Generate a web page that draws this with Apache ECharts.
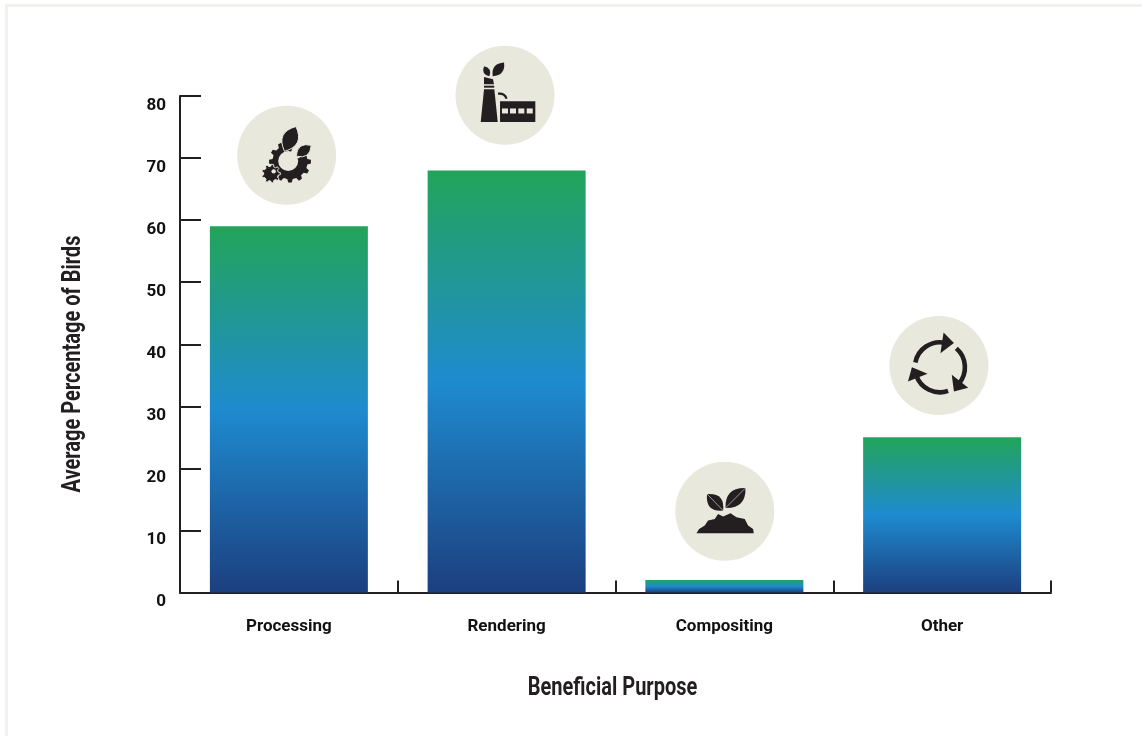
<!DOCTYPE html>
<html>
<head>
<meta charset="utf-8">
<title>Beneficial Purpose</title>
<script src="https://cdn.jsdelivr.net/npm/echarts@6/dist/echarts.min.js"></script>
<style>
  html, body { margin: 0; padding: 0; background: #fff; }
  #main { width: 1142px; height: 736px; }
</style>
</head>
<body>
<div id="main"></div>
<script>
// data
var categories = ["Processing", "Rendering", "Compositing", "Other"];
var birdPercent = [59, 68, 2, 25];
var yTicks = [0, 10, 20, 30, 40, 50, 60, 70, 80];
var xTitle = "Beneficial Purpose";
var yTitle = "Average Percentage of Birds";

var inkColor = "#231f20";
var discColor = "#e8e8dd";
var tickFont = "Roboto";

// little helpers for the icons, everything is in px around the disc centre
function f(n) {
  return n.toFixed(2);
}
function leaf(x0, y0, x1, y1, w) {
  var mx = (x0 + x1) / 2, my = (y0 + y1) / 2;
  var dx = x1 - x0, dy = y1 - y0;
  var len = Math.sqrt(dx * dx + dy * dy);
  var nx = -dy / len * w, ny = dx / len * w;
  return "M" + f(x0) + " " + f(y0) +
    "Q" + f(mx + nx) + " " + f(my + ny) + " " + f(x1) + " " + f(y1) +
    "Q" + f(mx - nx) + " " + f(my - ny) + " " + f(x0) + " " + f(y0) + "Z";
}
function poly(pts) {
  return "M" + pts.map(function(p) { return f(p[0]) + " " + f(p[1]); }).join("L") + "Z";
}
function gear(cx, cy, ro, ri, n) {
  var pts = [];
  for (var i = 0; i < n; i++) {
    var a = (i / n) * Math.PI * 2, s = (Math.PI * 2) / n;
    [[-0.3, ri], [-0.16, ro], [0.16, ro], [0.3, ri]].forEach(function(t) {
      pts.push([cx + Math.cos(a + t[0] * s) * t[1], cy + Math.sin(a + t[0] * s) * t[1]]);
    });
  }
  return poly(pts);
}
function polar(cx, cy, r, deg) {
  var a = (deg * Math.PI) / 180;
  return [cx + Math.cos(a) * r, cy + Math.sin(a) * r];
}

function fill(d, color) {
  return { type: "path", shape: { pathData: d }, style: { fill: color || inkColor } };
}
function outlined(d) {
  return { type: "path", shape: { pathData: d }, style: { fill: inkColor, stroke: discColor, lineWidth: 1 } };
}
function line(d, color, w) {
  return { type: "path", shape: { pathData: d }, style: { fill: null, stroke: color, lineWidth: w } };
}
function dot(cx, cy, r, color) {
  return { type: "circle", shape: { cx: cx, cy: cy, r: r }, style: { fill: color } };
}

function gearIcon() {
  return [
    fill(gear(3.3, 6.3, 21, 17.6, 12)),
    dot(1.5, 5.7, 10, discColor),
    fill(poly([[3, 2], [8, -16], [30, -10], [12, 3]]), discColor),
    { type: "path", shape: { pathData: gear(-15.7, 18.3, 9.4, 7.4, 9) }, style: { fill: inkColor, stroke: discColor, lineWidth: 1 } },
    dot(-13, 16, 2.2, discColor),
    outlined(leaf(-2.2, -4, 9.3, -28.8, 16)),
    outlined(leaf(9.5, 0.8, 24.6, -10, 11))
  ];
}
function factoryIcon() {
  return [
    fill(poly([[-24.3, 26.7], [-7.3, 26.7], [-10.7, -6], [-21, -6]])),
    fill(poly([[-21, -9.5], [-10.8, -9.5], [-10.8, -7.5], [-21, -7.5]])),
    fill(poly([[-21, -18.3], [-12, -16], [-11, -11], [-21, -11]])),
    fill(poly([[-5, 6], [30.3, 6], [30.3, 26.7], [-5, 26.7]])),
    fill(poly([[-3, 13.3], [3, 13.3], [3, 18.3], [-3, 18.3]]), discColor),
    fill(poly([[5, 13.3], [11, 13.3], [11, 18.3], [5, 18.3]]), discColor),
    fill(poly([[13.3, 13.3], [19.3, 13.3], [19.3, 18.3], [13.3, 18.3]]), discColor),
    fill(poly([[21.7, 13.3], [27.7, 13.3], [27.7, 18.3], [21.7, 18.3]]), discColor),
    line("M-7 -1.5Q0 -2 1.5 3.5", inkColor, 2.2),
    fill(leaf(-15.7, -19, -21, -29, 6.5)),
    fill(leaf(-12.3, -19, -1, -32.7, 9.5))
  ];
}
function soilIcon() {
  var soil = [[-28.3, 22], [-25.7, 17.7], [-20, 14.3], [-16.7, 9.3], [-10, 7.7], [-6.7, 2.7], [-1.7, 5.3],
    [5.7, 2], [11.7, 6], [20, 7.7], [23.3, 14.3], [28.3, 17.7], [29, 22]];
  return [
    fill(poly(soil)),
    fill(leaf(-1.7, -0.7, -17.7, -17.3, 14)),
    line("M-1.7 -0.7L-17.7 -17.3", discColor, 0.6),
    fill(leaf(0.7, -3.3, 20.7, -23.3, 15)),
    line("M0.7 -3.3L20.7 -23.3", discColor, 0.6)
  ];
}
function recycleIcon() {
  var out = [], cx = 1, cy = 1.7, r = 25;
  for (var k = 0; k < 3; k++) {
    var off = k * 120;
    var a = polar(cx, cy, r, -169 + off), b = polar(cx, cy, r, -78 + off);
    out.push(line("M" + f(a[0]) + " " + f(a[1]) + "A" + r + " " + r + " 0 0 1 " + f(b[0]) + " " + f(b[1]), inkColor, 4.6));
    out.push(fill(poly([polar(cx, cy, 35, -84 + off), polar(cx, cy, 28, -60 + off), polar(cx, cy, 14, -88 + off)])));
  }
  return out;
}
var iconBuilders = [gearIcon, factoryIcon, soilIcon, recycleIcon];
// how far each disc sits from its bar top centre
var discShift = [[-2.2, -71], [-1.6, -75.3], [0.4, -68.8], [-3.2, -71.8]];

var chartDom = document.getElementById("main");
var myChart = echarts.init(chartDom, null, { renderer: "canvas" });

// the titles are a squeezed condensed face in the reference, so they go in as scaled text
var titleStyle = {
  fill: inkColor,
  fontFamily: "Roboto",
  fontWeight: "bold",
  fontSize: 26,
  align: "center",
  verticalAlign: "middle"
};

var option = {
  backgroundColor: "#ffffff",
  animation: false,
  graphic: [
    // pale frame on the top and left of the page
    { type: "rect", shape: { x: 5, y: 4, width: 1137, height: 3 }, style: { fill: "#f2f2ec" }, silent: true },
    { type: "rect", shape: { x: 5, y: 4, width: 3, height: 732 }, style: { fill: "#f2f2ec" }, silent: true },
    { type: "text", x: 612.5, y: 688, scaleX: 0.77, style: Object.assign({ text: xTitle }, titleStyle), silent: true },
    { type: "text", x: 73, y: 364, rotation: Math.PI / 2, scaleX: 0.77, style: Object.assign({ text: yTitle }, titleStyle), silent: true }
  ],
  grid: { left: 180, right: 91, top: 96, height: 496.5, containLabel: false },
  xAxis: {
    type: "category",
    data: categories,
    axisLine: { show: true, lineStyle: { color: inkColor, width: 2 } },
    axisTick: { show: true, inside: true, length: 12, lineStyle: { color: inkColor, width: 2 } },
    axisLabel: { color: "#111111", fontFamily: tickFont, fontWeight: "bold", fontSize: 17, margin: 26, interval: 0 }
  },
  yAxis: {
    type: "value",
    min: 0,
    max: 80,
    interval: 10,
    splitLine: { show: false },
    axisLine: { show: true, lineStyle: { color: inkColor, width: 2 } },
    axisTick: { show: true, inside: true, length: 21, lineStyle: { color: inkColor, width: 2 } },
    axisLabel: {
      color: "#111111",
      fontFamily: tickFont,
      fontWeight: "bold",
      fontSize: 17,
      margin: 14,
      verticalAlign: "top",
      padding: [1, 0, 0, 0],
      customValues: yTicks
    }
  },
  series: [
    {
      name: "Average Percentage of Birds",
      type: "bar",
      barWidth: 158,
      data: birdPercent,
      itemStyle: {
        color: new echarts.graphic.LinearGradient(0, 0, 0, 1, [
          { offset: 0, color: "#22a45a" },
          { offset: 0.5, color: "#1e8bcf" },
          { offset: 1, color: "#1c3f7f" }
        ])
      }
    },
    {
      name: "Icons",
      type: "custom",
      coordinateSystem: "cartesian2d",
      silent: true,
      clip: false,
      z: 5,
      encode: { x: 0, y: 1 },
      data: birdPercent.map(function(v, i) {
        return [i, v];
      }),
      renderItem: function(params, api) {
        var i = api.value(0);
        var top = api.coord([i, api.value(1)]);
        return {
          type: "group",
          x: top[0] + discShift[i][0],
          y: top[1] + discShift[i][1],
          children: [dot(0, 0, 49.5, discColor)].concat(iconBuilders[i]())
        };
      }
    }
  ]
};

if (option && typeof option === "object") {
  myChart.setOption(option);
}
</script>
</body>
</html>
